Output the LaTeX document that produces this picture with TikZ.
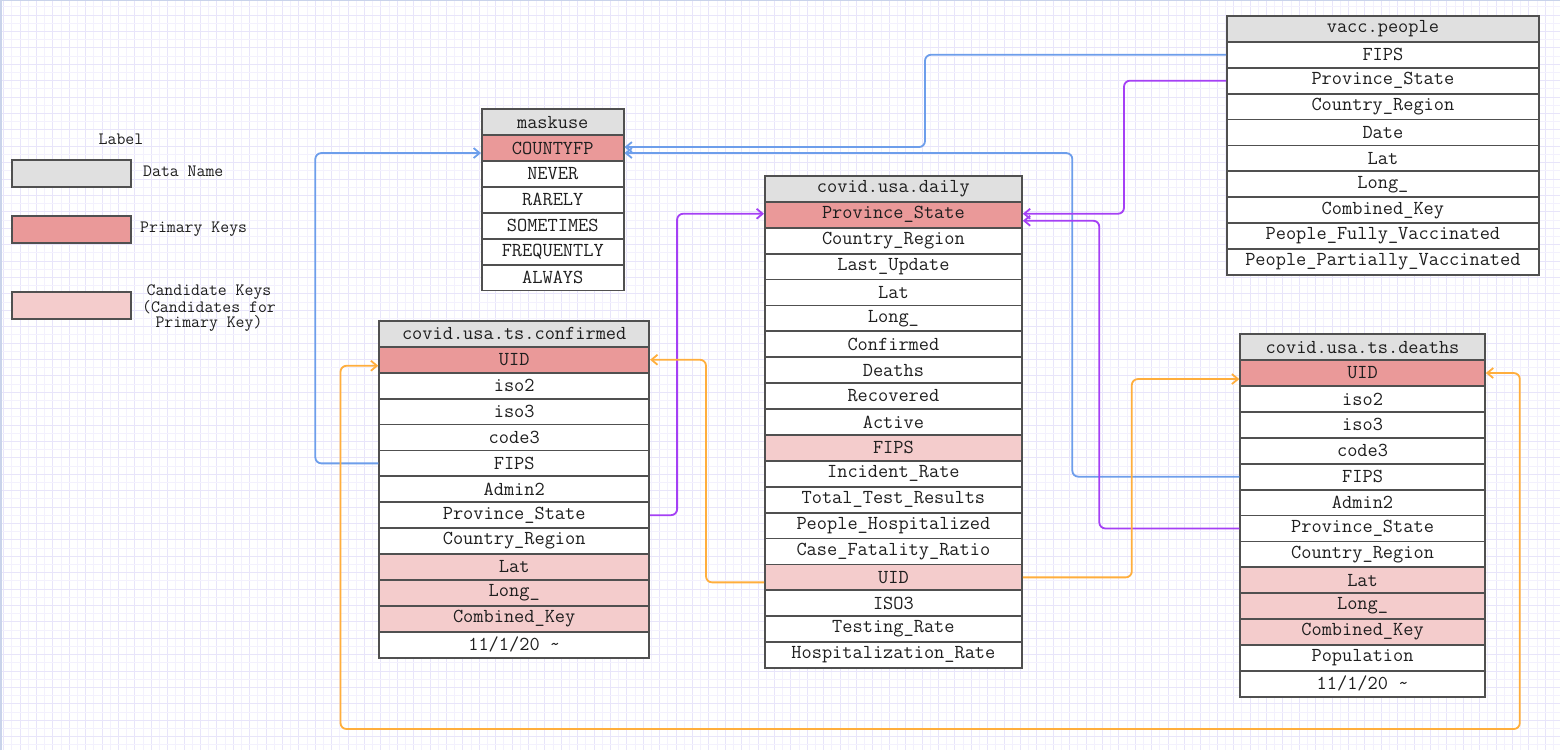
\documentclass[tikz,border=0pt]{standalone}
\usetikzlibrary{arrows.meta}
\definecolor{hdgray}{HTML}{E0E0E0}
\definecolor{pkred}{HTML}{EA9999}
\definecolor{ckpink}{HTML}{F4CCCC}
\definecolor{bord}{HTML}{505050}
\definecolor{lnblue}{HTML}{6D9EEB}
\definecolor{lnpurple}{HTML}{A540F5}
\definecolor{lnorange}{HTML}{FFAE3D}
\definecolor{gridmin}{HTML}{F3F1FD}
\definecolor{gridmaj}{HTML}{E8E5FA}
\definecolor{framec}{HTML}{C9D3EA}
\definecolor{txt}{HTML}{1E1E1E}
\tikzset{
  cell/.style={draw=bord, line width=1.8pt, minimum height=25.9pt, inner sep=0pt,
    anchor=north west, font=\fontsize{19.8}{19.8}\selectfont\ttfamily, text=txt},
  lgbox/.style={draw=bord, line width=1.8pt, minimum width=119pt, minimum height=27pt,
    inner sep=0pt, anchor=north west},
  lgtext/.style={font=\fontsize{17.3}{15}\selectfont\ttfamily, text=txt, inner sep=0pt},
  conn/.style={line width=1.8pt, rounded corners=6pt, -{Straight Barb[length=6pt,width=10pt]}},
  bconn/.style={conn, draw=lnblue},
  pconn/.style={conn, draw=lnpurple},
  oconn/.style={conn, draw=lnorange},
}
\newcommand{\dbtab}[5]{%
  \foreach \st/\tx [count=\i from 0] in {#5} {%
    \node[cell, fill=\st, minimum width=#4pt] (#1-\i) at (#2,{#3+\i*25.9}) {\tx};
  }%
}
\begin{document}
\begin{tikzpicture}[x=1pt,y=-1pt]
\useasboundingbox (0,0) rectangle (1560,750);
\fill[white] (0,0) rectangle (1560,750);
% grid
\foreach \i in {0,...,191} {
  \pgfmathsetmacro{\gx}{3.6+\i*8.2}
  \ifodd\i
    \draw[gridmin, line width=0.8pt] (\gx,0) -- (\gx,750);
  \else
    \draw[gridmaj, line width=1pt] (\gx,0) -- (\gx,750);
  \fi
}
\foreach \i in {0,...,92} {
  \pgfmathsetmacro{\gy}{-1.4+\i*8.2}
  \ifodd\i
    \draw[gridmin, line width=0.8pt] (0,\gy) -- (1560,\gy);
  \else
    \draw[gridmaj, line width=1pt] (0,\gy) -- (1560,\gy);
  \fi
}
\draw[framec, line width=2.5pt] (1,750) -- (1,0);
\draw[framec, line width=1.5pt] (0,0.7) -- (1560,0.7);

% legend
\node[lgtext] (lgtitle) at (121,139) {Label};
\node[lgbox, fill=hdgray] (lg1) at (11,159.3) {};
\node[lgtext, anchor=west] (lg1t) at (143,171) {Data Name};
\node[lgbox, fill=pkred] (lg2) at (11,215) {};
\node[lgtext, anchor=west] (lg2t) at (140,229) {Primary Keys};
\node[lgbox, fill=ckpink] (lg3) at (11,290.7) {};
\node[lgtext, align=center] (lg3t) at (209,308.5) {Candidate Keys\\(Candidates for\\Primary Key)};

% tables
\dbtab{mask}{481}{108.3}{141.7}{hdgray/maskuse, pkred/COUNTYFP, white/NEVER, white/RARELY, white/SOMETIMES, white/FREQUENTLY, white/ALWAYS}
\dbtab{conf}{378.3}{320}{270}{hdgray/covid.usa.ts.confirmed, pkred/UID, white/iso2, white/iso3, white/code3, white/FIPS, white/Admin2, white/Province\_State, white/Country\_Region, ckpink/Lat, ckpink/Long\_, ckpink/Combined\_Key, white/{11/1/20 \textasciitilde}}
\dbtab{daily}{764}{175}{257}{hdgray/covid.usa.daily, pkred/Province\_State, white/Country\_Region, white/Last\_Update, white/Lat, white/Long\_, white/Confirmed, white/Deaths, white/Recovered, white/Active, ckpink/FIPS, white/Incident\_Rate, white/Total\_Test\_Results, white/People\_Hospitalized, white/Case\_Fatality\_Ratio, ckpink/UID, white/ISO3, white/Testing\_Rate, white/Hospitalization\_Rate}
\dbtab{vacc}{1226}{15}{312}{hdgray/vacc.people, white/FIPS, white/Province\_State, white/Country\_Region, white/Date, white/Lat, white/Long\_, white/Combined\_Key, white/People\_Fully\_Vaccinated, white/People\_Partially\_Vaccinated}
\dbtab{death}{1239.3}{333.3}{244.7}{hdgray/covid.usa.ts.deaths, pkred/UID, white/iso2, white/iso3, white/code3, white/FIPS, white/Admin2, white/Province\_State, white/Country\_Region, ckpink/Lat, ckpink/Long\_, ckpink/Combined\_Key, white/Population, white/{11/1/20 \textasciitilde}}

% connectors: blue (FIPS -> COUNTYFP)
\draw[bconn] (conf-5.west) -- ++(-63,0) |- ([yshift=-5pt]mask-1.west);
\draw[bconn] (vacc-1.west) -- ++(-301,0) |- ([yshift=1pt]mask-1.east);
\draw[bconn] (death-5.west) -- ++(-167,0) |- ([yshift=-5pt]mask-1.east);
% purple (Province_State)
\draw[pconn] (vacc-2.west) -- ++(-102,0) |- ([yshift=1pt]daily-1.east);
\draw[pconn] (death-7.west) -- ++(-140,0) |- ([yshift=-6pt]daily-1.east);
\draw[pconn] (conf-7.east) -- ++(27,0) |- ([yshift=1pt]daily-1.west);
% orange (UID)
\draw[oconn] ([yshift=-5pt]daily-15.west) -- ++(-58,0) |- (conf-1.east);
\draw[oconn] (daily-15.east) -- ++(109,0) |- ([yshift=-6pt]death-1.west);
\coordinate (loopbl) at (340.5,729);
\draw[oconn, {Straight Barb[length=6pt,width=10pt]}-{Straight Barb[length=6pt,width=10pt]}]
  (death-1.east) -- ++(34,0) |- (loopbl) |- ([yshift=-6pt]conf-1.west);
\end{tikzpicture}
\end{document}
